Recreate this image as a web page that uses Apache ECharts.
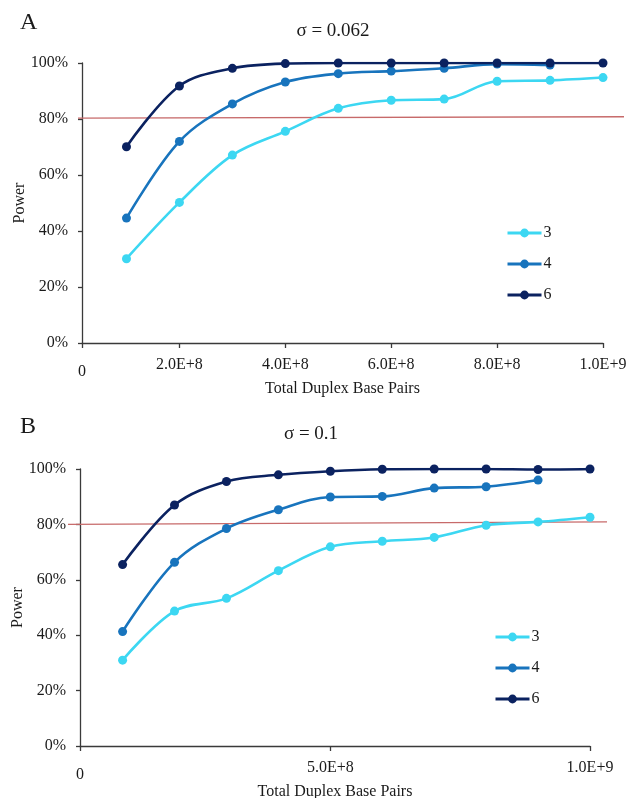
<!DOCTYPE html>
<html>
<head>
<meta charset="utf-8">
<script src="https://cdn.jsdelivr.net/npm/echarts@6/dist/echarts.min.js"></script>
<style>
html,body{margin:0;padding:0;background:#fff;}
#c{width:639px;height:798px;}
</style>
</head>
<body>
<div id="c"></div>
<script>
// ---- data ----
var xValues = [1e8, 2e8, 3e8, 4e8, 5e8, 6e8, 7e8, 8e8, 9e8, 1e9];
var seriesNames = ['3', '4', '6'];
// Panel A (sigma = 0.062), power in %
var powerA3 = [30.1, 50.2, 67.1, 75.6, 83.8, 86.7, 87.1, 93.5, 93.8, 94.8];
var powerA4 = [44.6, 72.0, 85.4, 93.2, 96.2, 97.1, 98.1, 99.6, 99.3];
var powerA6 = [70.1, 91.8, 98.1, 99.8, 100, 100, 100, 100, 100, 100];
// Panel B (sigma = 0.1)
var powerB3 = [31.0, 48.7, 53.3, 63.3, 71.9, 73.9, 75.3, 79.7, 80.9, 82.6];
var powerB4 = [41.3, 66.3, 78.5, 85.3, 89.9, 90.1, 93.1, 93.6, 96.0];
var powerB6 = [65.5, 87.0, 95.5, 97.9, 99.2, 99.9, 100, 100, 99.8, 100];
// hand-drawn 80% reference lines: power at left end and right end
var refLineA = [80.3, 80.8];
var refLineB = [80.0, 80.9];
// tick labels
var xTickValuesA = [2e8, 4e8, 6e8, 8e8, 1e9];
var xTickLabelsA = ['2.0E+8', '4.0E+8', '6.0E+8', '8.0E+8', '1.0E+9'];
var xTickValuesB = [5e8, 1e9];
var xTickLabelsB = ['5.0E+8', '1.0E+9'];
var xMinA = 1.6e7, xMinB = 1.8e7, xMax = 1e9;
var titleA = 'σ = 0.062', titleB = 'σ = 0.1';
var panelA = 'A', panelB = 'B';
var xName = 'Total Duplex Base Pairs', yName = 'Power';

// ---- styles ----
var FONT = 'Liberation Serif';
var colors = {'3': '#3cd7f2', '4': '#1874bd', '6': '#0b2260'};
var axisColor = '#3a3a3a';
var textColor = '#1a1a1a';

function pairs(vals) {
  return vals.map(function (v, i) { return [xValues[i], v]; });
}

function xAxisFor(gridIndex, minV, tickVals, tickLabels) {
  return {
    type: 'value', gridIndex: gridIndex, min: minV, max: xMax,
    name: xName, nameLocation: 'middle', nameGap: 38, nameMoveOverlap: false,
    nameTextStyle: {fontFamily: FONT, fontSize: 16, color: textColor},
    splitLine: {show: false},
    axisLine: {show: true, onZero: false, lineStyle: {color: axisColor, width: 1.3}},
    axisTick: {show: true, length: 5, lineStyle: {color: axisColor, width: 1.3},
               customValues: [minV].concat(tickVals)},
    axisLabel: {
      fontFamily: FONT, fontSize: 16, color: textColor, margin: 14,
      customValues: [minV].concat(tickVals),
      formatter: function (v) {
        var i = tickVals.indexOf(v);
        if (i >= 0) return tickLabels[i];
        return '{z|0}';
      },
      rich: {z: {fontFamily: FONT, fontSize: 16, color: textColor, lineHeight: 30}}
    }
  };
}

function yAxisFor(gridIndex) {
  return {
    type: 'value', gridIndex: gridIndex, min: 0, max: 100, interval: 20,
    name: yName, nameLocation: 'middle', nameGap: 54, nameMoveOverlap: false,
    nameTextStyle: {fontFamily: FONT, fontSize: 16, color: textColor},
    splitLine: {show: false},
    axisLine: {show: true, lineStyle: {color: axisColor, width: 1.3}},
    axisTick: {show: true, length: 4, lineStyle: {color: axisColor, width: 1.3}},
    axisLabel: {fontFamily: FONT, fontSize: 16, color: textColor, margin: 14,
                formatter: '{value}%'}
  };
}

function hiddenAxis(gridIndex, minV, maxV) {
  return {type: 'value', gridIndex: gridIndex, min: minV, max: maxV, show: false,
          splitLine: {show: false}};
}

function lineSeries(name, vals, gi) {
  return {
    name: name, type: 'line', xAxisIndex: gi, yAxisIndex: gi,
    data: pairs(vals), smooth: 0.35,
    symbol: 'circle', symbolSize: 9,
    itemStyle: {color: colors[name]},
    lineStyle: {color: colors[name], width: 2.6},
    emphasis: {disabled: true}
  };
}

function refSeries(ends, gi) {
  return {
    type: 'line', xAxisIndex: gi, yAxisIndex: gi,
    data: [[0, ends[0]], [1, ends[1]]],
    symbol: 'none', silent: true, z: 1,
    lineStyle: {color: '#c76a6a', width: 1.3}
  };
}

function legendFor(left, top) {
  return {
    orient: 'vertical', left: left, top: top, padding: 0,
    itemWidth: 34, itemHeight: 11, itemGap: 15,
    data: seriesNames,
    lineStyle: {width: 3},
    textStyle: {fontFamily: FONT, fontSize: 16, color: textColor, padding: [0, 0, 0, -3]}
  };
}

function gridAt(left, top, width, height) {
  return {left: left, top: top, width: width, height: height,
          containLabel: false, outerBoundsMode: 'none'};
}

var option = {
  backgroundColor: '#ffffff',
  animation: false,
  title: [
    {text: panelA, left: 20, top: 11, padding: 0,
     textStyle: {fontFamily: FONT, fontSize: 24, fontWeight: 'normal', color: textColor}},
    {text: titleA, left: 333, top: 22, padding: 0, textAlign: 'center',
     textStyle: {fontFamily: FONT, fontSize: 19, fontWeight: 'normal', color: textColor}},
    {text: panelB, left: 20, top: 415, padding: 0,
     textStyle: {fontFamily: FONT, fontSize: 24, fontWeight: 'normal', color: textColor}},
    {text: titleB, left: 311, top: 425, padding: 0, textAlign: 'center',
     textStyle: {fontFamily: FONT, fontSize: 19, fontWeight: 'normal', color: textColor}}
  ],
  grid: [
    gridAt(82, 63, 521, 280),
    gridAt(80, 469, 510, 277),
    gridAt(78, 63, 546, 280),
    gridAt(68, 469, 539, 277)
  ],
  legend: [legendFor(506, 225), legendFor(494, 629)],
  xAxis: [
    xAxisFor(0, xMinA, xTickValuesA, xTickLabelsA),
    xAxisFor(1, xMinB, xTickValuesB, xTickLabelsB),
    hiddenAxis(2, 0, 1),
    hiddenAxis(3, 0, 1)
  ],
  yAxis: [yAxisFor(0), yAxisFor(1), hiddenAxis(2, 0, 100), hiddenAxis(3, 0, 100)],
  series: [
    refSeries(refLineA, 2),
    lineSeries('3', powerA3, 0),
    lineSeries('4', powerA4, 0),
    lineSeries('6', powerA6, 0),
    refSeries(refLineB, 3),
    lineSeries('3', powerB3, 1),
    lineSeries('4', powerB4, 1),
    lineSeries('6', powerB6, 1)
  ]
};

var chart = echarts.init(document.getElementById('c'), null, {renderer: 'canvas'});
chart.setOption(option);
</script>
</body>
</html>
